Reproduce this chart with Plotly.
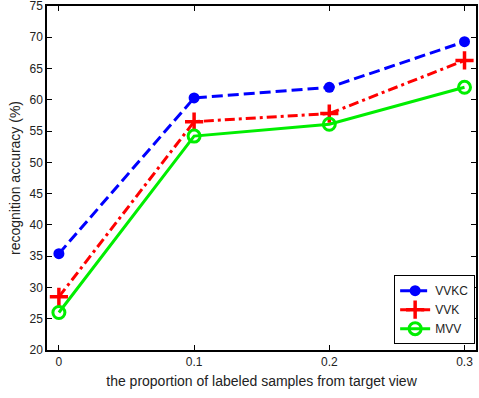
import plotly.graph_objects as go

proportions = [0, 0.1, 0.2, 0.3]
vvkc = [35.4, 60.3, 62.0, 69.3]
vvk = [28.5, 56.5, 57.8, 66.3]
mvv = [26.0, 54.2, 56.1, 62.0]
x_ticks = [0, 0.1, 0.2, 0.3]
x_tick_labels = ["0", "0.1", "0.2", "0.3"]
y_ticks = list(range(20, 80, 5))

fig = go.Figure()
fig.add_trace(go.Scatter(x=proportions, y=vvkc, name="VVKC", mode="lines+markers",
                         line=dict(color="#0000ff", width=3, dash="11px,5px"),
                         marker=dict(symbol="circle", size=11, color="#0000ff")))
fig.add_trace(go.Scatter(x=proportions, y=vvk, name="VVK", mode="lines+markers",
                         line=dict(color="#ff0000", width=3, dash="10px,4px,3px,4px"),
                         marker=dict(symbol="cross-thin", size=13,
                                     line=dict(color="#ff0000", width=3.5), color="#ff0000")))
fig.add_trace(go.Scatter(x=proportions, y=mvv, name="MVV", mode="lines+markers",
                         line=dict(color="#00ee00", width=3),
                         marker=dict(symbol="circle-open", size=12,
                                     line=dict(color="#00ee00", width=3), color="#00ee00")))

ff = "Arial, Liberation Sans, sans-serif"
txt = "#222222"
fig.update_layout(
    template="none",
    width=479, height=398,
    margin=dict(l=47, r=3, t=6, b=48, pad=0),
    paper_bgcolor="white", plot_bgcolor="white",
    font=dict(family=ff, size=12, color=txt),
    showlegend=True,
    legend=dict(x=0.998, y=0.017, xanchor="right", yanchor="bottom",
                bgcolor="white", bordercolor="black", borderwidth=1,
                font=dict(family=ff, size=12, color=txt),
                tracegroupgap=0, itemwidth=30),
)
fig.update_xaxes(range=[-0.0088, 0.3085], tickvals=x_ticks, ticktext=x_tick_labels,
                 showgrid=False, zeroline=False, showline=True, linecolor="black", linewidth=1.5,
                 mirror="ticks", ticks="inside", ticklen=5, tickcolor="black",
                 tickfont=dict(family=ff, size=12, color=txt), automargin=False,
                 title=dict(text="the proportion of labeled samples from target view",
                            font=dict(family=ff, size=14, color=txt), standoff=8))
fig.update_yaxes(range=[20, 75], tickvals=y_ticks,
                 showgrid=False, zeroline=False, showline=True, linecolor="black", linewidth=1.5,
                 mirror="ticks", ticks="inside", ticklen=5, tickcolor="black",
                 tickfont=dict(family=ff, size=12, color=txt), automargin=False,
                 ticklabeloverflow="allow",
                 title=dict(text="recognition accuracy (%)", font=dict(family=ff, size=14, color=txt),
                            standoff=6))
fig.write_html("out.html", config={"displayModeBar": False},
               post_script="document.body.style.margin='0';")
